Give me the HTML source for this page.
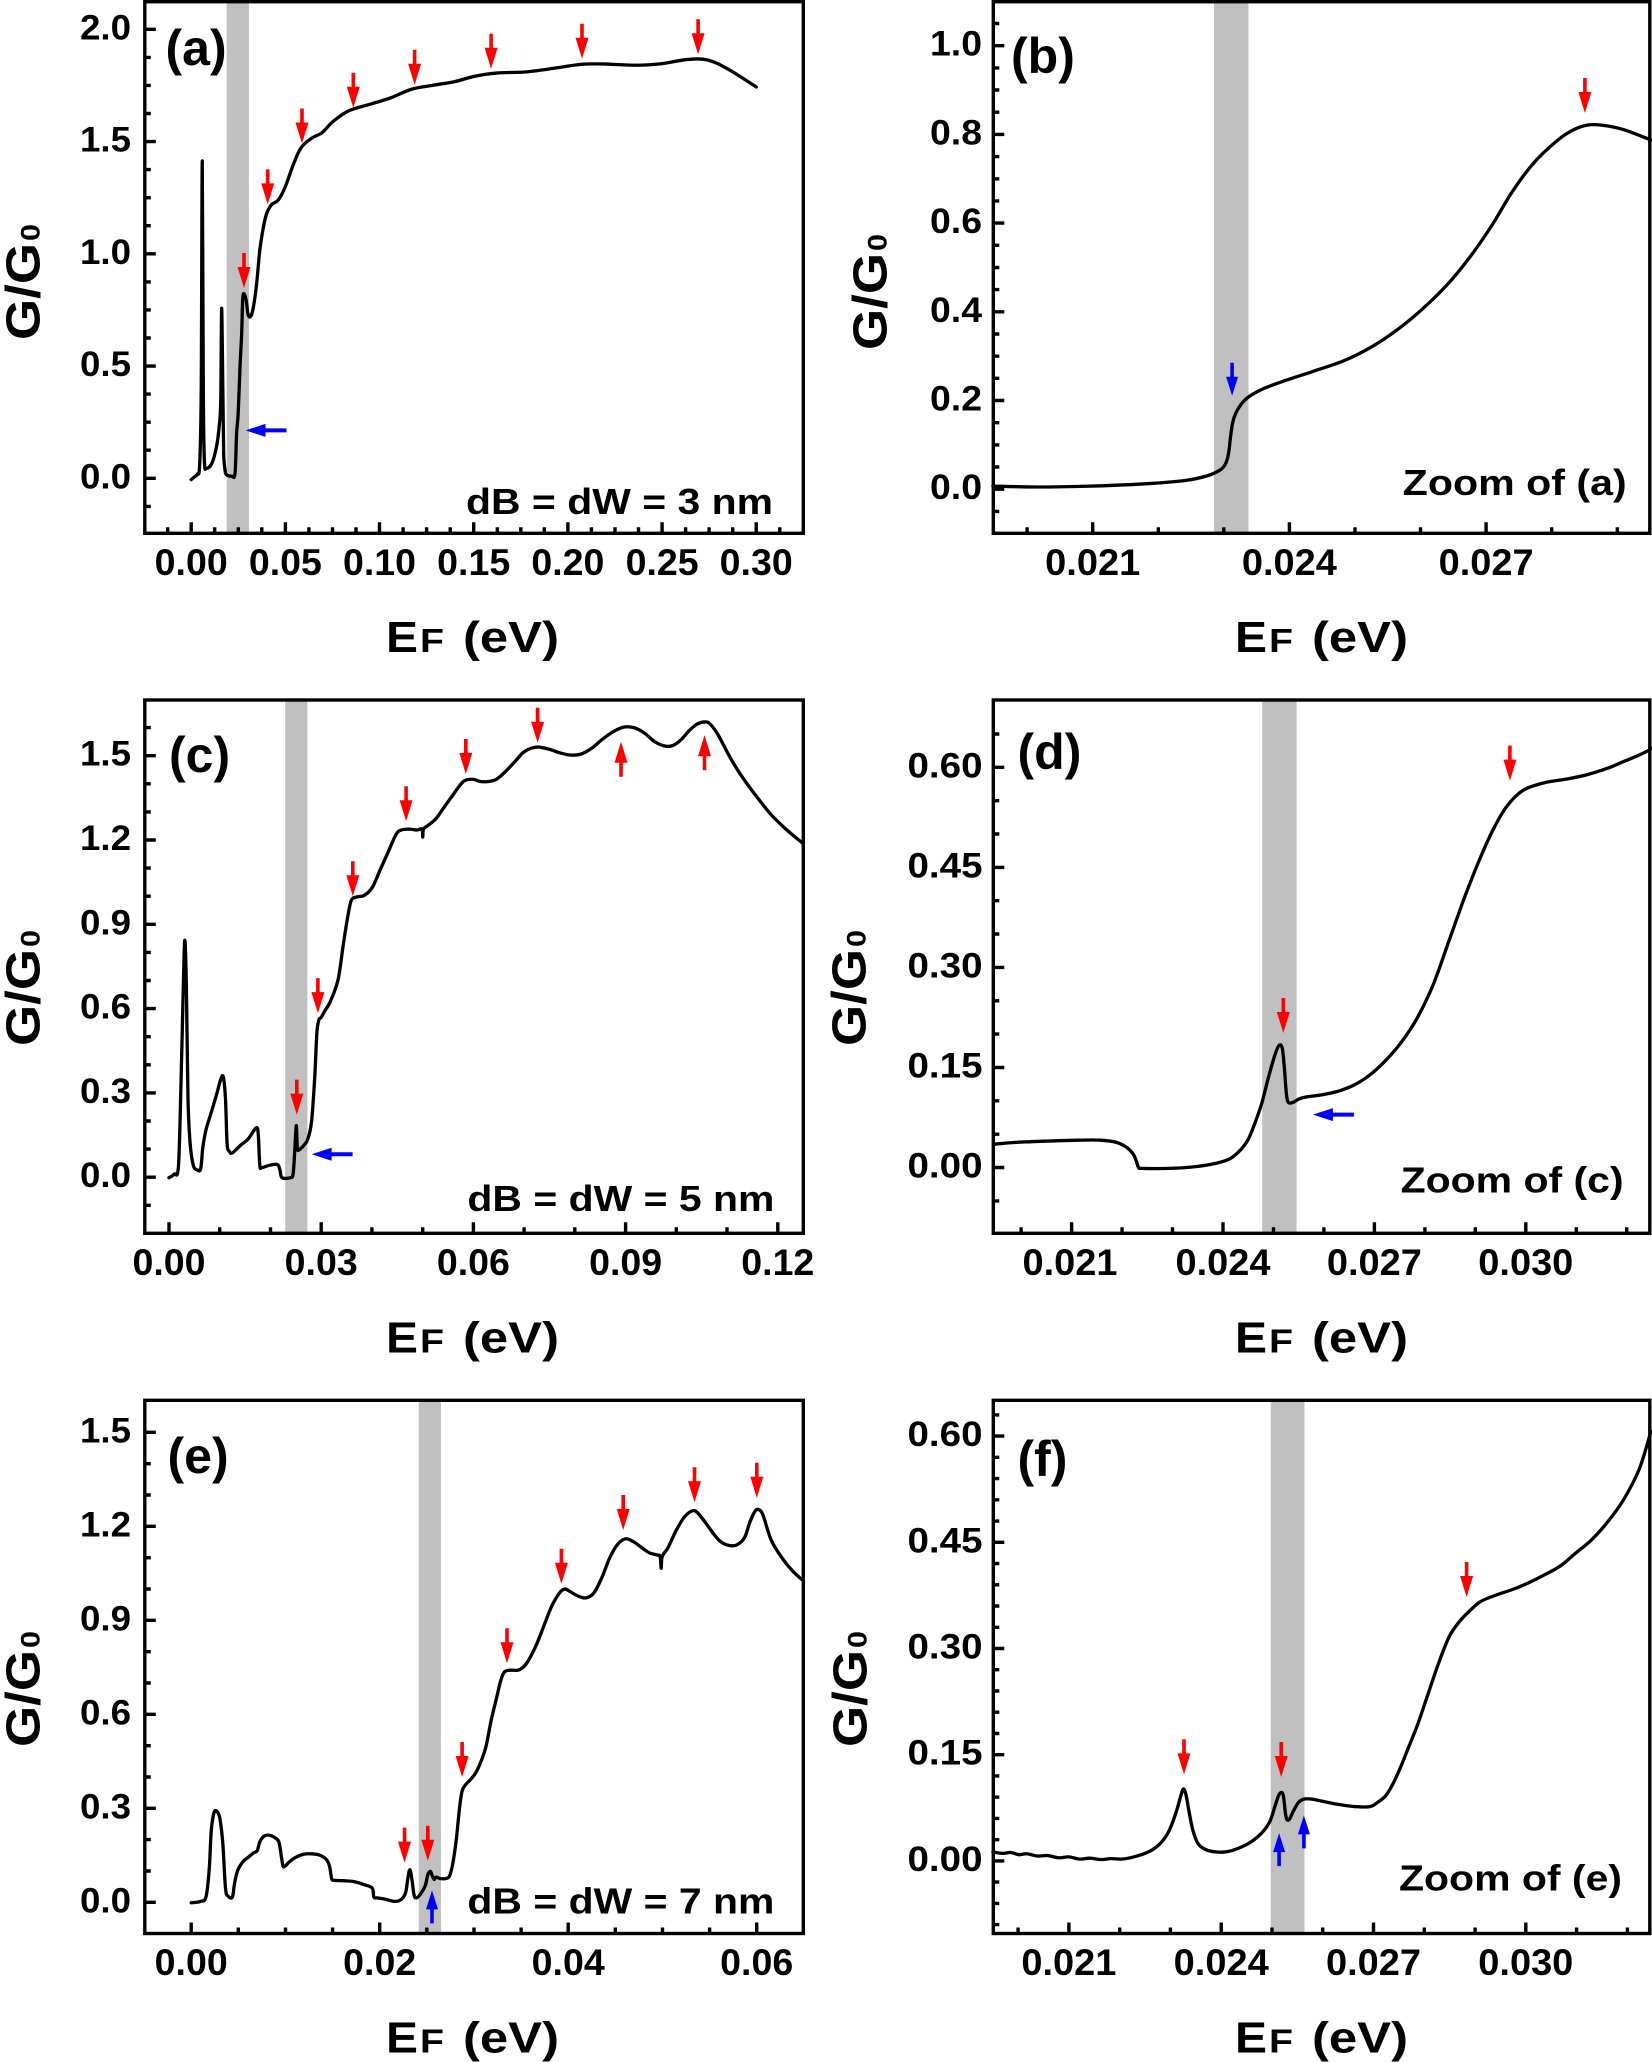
<!DOCTYPE html>
<html><head><meta charset="utf-8"><style>
html,body{margin:0;padding:0;background:#fff;overflow:hidden}
svg{display:block}
text{font-family:"Liberation Sans",Arial,sans-serif;font-weight:bold;fill:#000}
.yl{font-size:35px;text-anchor:end}
.xl{font-size:37px;text-anchor:middle}
.pl{font-size:50px}
.an{font-size:36px}
.ax{font-size:44px}
.cv{fill:none;stroke:#000;stroke-width:3.3;stroke-linejoin:round;stroke-linecap:round}
.tk{fill:none;stroke:#000;stroke-width:3.4}
.fr{fill:none;stroke:#000;stroke-width:3.4}
</style></head><body>
<svg width="1652" height="2062" viewBox="0 0 1652 2062" xmlns="http://www.w3.org/2000/svg">
<defs>
<polygon id="ra" points="-1.8,-35 1.8,-35 1.8,-21 6.5,-21 0,0 -6.5,-21 -1.8,-21" fill="#ff0000"/>
<polygon id="bl" points="-2,-41 2,-41 2,-20 6.5,-20 0,0 -6.5,-20 -2,-20" fill="#0000ff"/>
<polygon id="bs" points="-1.8,-33 1.8,-33 1.8,-19 6,-19 0,0 -6,-19 -1.8,-19" fill="#0000ff"/>
</defs>
<rect width="1652" height="2062" fill="#fff"/>

<!-- gray bands -->
<rect x="226.7" y="1.7" width="22.3" height="531.6" fill="#c0c0c0"/>
<rect x="1214" y="1.7" width="34.5" height="531.6" fill="#c0c0c0"/>
<rect x="285.2" y="700" width="22.2" height="533.3" fill="#c0c0c0"/>
<rect x="1262.2" y="700" width="34.4" height="533.3" fill="#c0c0c0"/>
<rect x="418.8" y="1400.3" width="22.2" height="533.2" fill="#c0c0c0"/>
<rect x="1270.7" y="1400.3" width="33.8" height="533.2" fill="#c0c0c0"/>

<!-- curves -->
<g transform="translate(0,0) scale(0.5281,0.4348)">
<polyline class="cv" vector-effect="non-scaling-stroke" points="362,1103 368,1097 374,1090 378,1070 381,900 383,370 385,900 387,1060 391,1077 401,1066 410,1027 415,981 418,920 419.7,709 422,900 423.5,1040 426,1080 429,1092 439,1095 445,1089 448,997 451,951 454.5,843 457.6,767 459.5,690 462,675 466,690 470,724 475,727 480,705 486,652 492,575 499,521 505,491 514,471 527,460 540,430 555,380 570,340 590,318 610,305 630,280 660,255 700,240 740,225 780,205 820,196 860,188 900,175 940,168 1000,165 1060,155 1100,148 1140,147 1200,150 1250,147 1300,137 1340,138 1380,160 1432,200"/>
</g>
<g transform="translate(826,0) scale(0.5281,0.4348)">
<polyline class="cv" vector-effect="non-scaling-stroke" points="316,1118 400,1120 500,1118 600,1113 680,1105 720,1095 745,1082 756,1068 762,1045 766,1005 770,972 776,950 786,930 800,913 830,893 870,875 920,855 980,830 1030,800 1080,760 1130,710 1180,650 1220,590 1260,520 1300,440 1340,375 1380,328 1410,302 1440,288 1470,288 1510,298 1562,322"/>
</g>
<g transform="translate(0,680) scale(0.5281,0.4412)">
<polyline class="cv" vector-effect="non-scaling-stroke" points="320,1128 330,1120 338,1100 343,900 347,700 350,590 353,700 356,950 360,1050 366,1100 373,1110 380,1108 384,1060 390,1020 400,980 410,940 418,905 423,900 427,950 430,1050 434,1068 440,1072 455,1055 470,1040 485,1015 489,1030 492,1100 496,1105 510,1100 525,1098 530,1110 534,1128 550,1128 555,1120 558,1070 561,1010 563,1060 566,1065 575,1055 583,1040 590,1000 596,900 600,800 604,770 608,765 615,750 625,730 640,680 650,600 658,540 665,500 675,492 690,488 705,470 720,430 735,390 750,350 760,340 775,338 790,340 799,338 800.5,356 802,338 810,330 825,315 840,290 855,265 870,240 880,228 895,225 910,230 925,230 940,225 955,210 975,185 990,165 1005,155 1020,152 1040,157 1060,165 1080,170 1100,168 1120,155 1140,135 1160,118 1180,107 1200,108 1220,120 1240,140 1260,150 1275,148 1290,135 1305,115 1320,100 1335,95 1345,100 1360,125 1380,170 1400,210 1430,260 1460,305 1490,340 1520,370"/>
</g>
<g transform="translate(826,680) scale(0.5281,0.4412)">
<polyline class="cv" vector-effect="non-scaling-stroke" points="318,1052 360,1048 420,1045 480,1043 520,1043 550,1048 570,1060 582,1075 588,1092 592,1105 600,1107 650,1107 700,1103 740,1095 765,1085 785,1065 800,1040 812,1005 825,960 838,900 850,850 858,828 864,835 868,880 872,940 876,958 885,957 895,950 910,945 940,940 970,932 1000,918 1030,895 1060,862 1090,820 1120,765 1150,690 1180,590 1210,490 1240,400 1265,335 1290,285 1320,250 1360,233 1400,225 1440,215 1480,200 1510,185 1540,170 1565,155"/>
</g>
<g transform="translate(0,1372) scale(0.5281,0.4412)">
<polyline class="cv" vector-effect="non-scaling-stroke" points="362,1203 380,1200 390,1190 396,1130 400,1040 405,1000 410,995 416,1010 422,1070 427,1170 432,1188 440,1190 444,1160 450,1130 460,1110 470,1100 480,1090 487,1085 492,1065 500,1052 510,1050 520,1055 528,1065 533,1100 536,1120 540,1120 548,1110 560,1100 575,1093 590,1092 605,1095 618,1105 624,1120 628,1148 632,1152 650,1153 670,1155 690,1162 705,1170 708,1190 715,1192 730,1195 748,1200 760,1195 768,1180 772,1150 776,1128 780,1150 784,1185 788,1192 795,1185 805,1165 810,1140 815,1132 818,1140 822,1150 826,1145 833,1148 845,1148 852,1140 858,1110 864,1060 870,990 875,950 882,935 890,925 900,910 910,885 920,850 930,790 940,740 948,700 955,680 965,676 980,676 990,670 1000,655 1015,620 1030,575 1045,530 1060,500 1070,492 1080,498 1095,508 1110,512 1125,500 1140,465 1155,420 1170,390 1185,378 1200,385 1215,398 1230,410 1245,415 1250,418 1252,445 1254,418 1265,398 1280,360 1295,330 1310,315 1320,318 1335,340 1350,365 1365,385 1380,393 1395,392 1410,375 1420,340 1430,315 1437,312 1445,325 1460,380 1480,420 1500,450 1520,472"/>
</g>
<g transform="translate(826,1372) scale(0.5281,0.4412)">
<polyline class="cv" vector-effect="non-scaling-stroke" points="316,1088 335,1091 350,1089 365,1094 380,1092 400,1097 420,1096 440,1101 460,1099 480,1104 500,1102 520,1105 540,1103 560,1104 580,1100 610,1088 630,1072 645,1050 655,1025 665,990 672,960 677,945 682,960 688,1000 695,1040 705,1070 720,1083 740,1088 760,1087 780,1080 805,1065 825,1045 840,1020 850,985 857,960 862,953 866,960 870,1000 873,1015 878,1013 885,995 895,975 905,968 920,968 940,973 970,980 1000,985 1030,985 1045,975 1060,960 1075,930 1090,890 1100,860 1120,800 1140,730 1160,660 1180,600 1200,565 1220,540 1240,520 1270,505 1300,493 1330,478 1360,460 1390,440 1420,410 1450,380 1480,340 1510,290 1540,220 1562,135"/>
</g>

<!-- frames -->
<rect class="fr" x="144.8" y="1.7" width="658.5" height="531.6"/>
<rect class="fr" x="993.3" y="1.7" width="656.5" height="531.6"/>
<rect class="fr" x="144.8" y="700" width="658.5" height="533.3"/>
<rect class="fr" x="993.3" y="700" width="656.5" height="533.3"/>
<rect class="fr" x="144.8" y="1400.3" width="658.5" height="533.2"/>
<rect class="fr" x="993.3" y="1400.3" width="656.5" height="533.2"/>

<!-- ticks (a) -->
<path class="tk" d="M144.8 29.3h11M144.8 141.6h11M144.8 253.8h11M144.8 366.1h11M144.8 478.3h11
M144.8 57.4h6M144.8 85.4h6M144.8 113.5h6M144.8 169.6h6M144.8 197.7h6M144.8 225.7h6M144.8 281.9h6M144.8 309.9h6M144.8 338h6M144.8 394.1h6M144.8 422.2h6M144.8 450.2h6M144.8 506.4h6
M191.2 533.3v-11M285.4 533.3v-11M379.5 533.3v-11M473.7 533.3v-11M567.9 533.3v-11M662.1 533.3v-11M756.2 533.3v-11
M167.7 533.3v-6M214.7 533.3v-6M238.3 533.3v-6M261.8 533.3v-6M308.9 533.3v-6M332.5 533.3v-6M356 533.3v-6M403.1 533.3v-6M426.6 533.3v-6M450.2 533.3v-6M497.3 533.3v-6M520.8 533.3v-6M544.3 533.3v-6M591.4 533.3v-6M615 533.3v-6M638.5 533.3v-6M685.6 533.3v-6M709.1 533.3v-6M732.7 533.3v-6M779.8 533.3v-6"/>
<!-- ticks (b) -->
<path class="tk" d="M993.3 489.2h11M993.3 400.5h11M993.3 311.8h11M993.3 223.1h11M993.3 134.4h11M993.3 45.7h11
M993.3 511.4h6M993.3 467h6M993.3 444.9h6M993.3 422.7h6M993.3 378.3h6M993.3 356.2h6M993.3 334h6M993.3 289.6h6M993.3 267.5h6M993.3 245.3h6M993.3 200.9h6M993.3 178.8h6M993.3 156.6h6M993.3 112.2h6M993.3 90h6M993.3 67.9h6M993.3 23.5h6
M1092.7 533.3v-11M1289.4 533.3v-11M1486.1 533.3v-11
M1027.1 533.3v-6M1158.3 533.3v-6M1223.8 533.3v-6M1355 533.3v-6M1420.5 533.3v-6M1551.7 533.3v-6M1617.3 533.3v-6"/>
<!-- ticks (c) -->
<path class="tk" d="M144.8 1177.2h11M144.8 1092.9h11M144.8 1008.6h11M144.8 924.3h11M144.8 840h11M144.8 755.7h11
M144.8 1205.3h6M144.8 1149.1h6M144.8 1121h6M144.8 1064.8h6M144.8 1036.7h6M144.8 980.5h6M144.8 952.4h6M144.8 896.2h6M144.8 868.1h6M144.8 811.9h6M144.8 783.8h6M144.8 727.6h6
M169 1233.3v-11M321.2 1233.3v-11M473.4 1233.3v-11M625.6 1233.3v-11M777.8 1233.3v-11
M219.7 1233.3v-6M270.5 1233.3v-6M371.9 1233.3v-6M422.7 1233.3v-6M524.1 1233.3v-6M574.8 1233.3v-6M676.3 1233.3v-6M727 1233.3v-6"/>
<!-- ticks (d) -->
<path class="tk" d="M993.3 1167.5h11M993.3 1067.5h11M993.3 967.4h11M993.3 867.4h11M993.3 767.3h11
M993.3 1200.9h6M993.3 1134.2h6M993.3 1100.8h6M993.3 1034.1h6M993.3 1000.8h6M993.3 934h6M993.3 900.7h6M993.3 834h6M993.3 800.7h6M993.3 734h6
M1071.6 1233.3v-11M1223 1233.3v-11M1374.4 1233.3v-11M1525.8 1233.3v-11
M1021.1 1233.3v-6M1122.1 1233.3v-6M1172.5 1233.3v-6M1273.5 1233.3v-6M1323.9 1233.3v-6M1424.9 1233.3v-6M1475.3 1233.3v-6M1576.3 1233.3v-6M1626.7 1233.3v-6"/>
<!-- ticks (e) -->
<path class="tk" d="M144.8 1902.3h11M144.8 1808.3h11M144.8 1714.3h11M144.8 1620.3h11M144.8 1526.3h11M144.8 1432.3h11
M144.8 1871h6M144.8 1839.6h6M144.8 1777h6M144.8 1745.7h6M144.8 1683h6M144.8 1651.7h6M144.8 1589h6M144.8 1557.7h6M144.8 1495h6M144.8 1463.7h6
M191.2 1933.5v-11M379.7 1933.5v-11M568.2 1933.5v-11M756.7 1933.5v-11
M238.3 1933.5v-6M285.5 1933.5v-6M332.6 1933.5v-6M426.8 1933.5v-6M474 1933.5v-6M521.1 1933.5v-6M615.3 1933.5v-6M662.5 1933.5v-6M709.6 1933.5v-6"/>
<!-- ticks (f) -->
<path class="tk" d="M993.3 1860.9h11M993.3 1754.7h11M993.3 1648.5h11M993.3 1542.3h11M993.3 1436.1h11
M993.3 1924.6h6M993.3 1903.4h6M993.3 1882.1h6M993.3 1839.7h6M993.3 1818.4h6M993.3 1797.2h6M993.3 1775.9h6M993.3 1733.5h6M993.3 1712.2h6M993.3 1691h6M993.3 1669.7h6M993.3 1627.3h6M993.3 1606h6M993.3 1584.8h6M993.3 1563.5h6M993.3 1521.1h6M993.3 1499.8h6M993.3 1478.6h6M993.3 1457.3h6M993.3 1414.9h6
M1068.9 1933.5v-11M1221.2 1933.5v-11M1373.5 1933.5v-11M1525.8 1933.5v-11
M1018.1 1933.5v-6M1119.7 1933.5v-6M1170.4 1933.5v-6M1272 1933.5v-6M1322.7 1933.5v-6M1424.3 1933.5v-6M1475.1 1933.5v-6M1576.6 1933.5v-6M1627.4 1933.5v-6"/>

<!-- arrows (a) -->
<use href="#ra" transform="translate(244,288)"/>
<use href="#ra" transform="translate(267.7,204.4)"/>
<use href="#ra" transform="translate(302,143.5)"/>
<use href="#ra" transform="translate(353.3,107.8)"/>
<use href="#ra" transform="translate(414.6,84.8)"/>
<use href="#ra" transform="translate(491.1,68.7)"/>
<use href="#ra" transform="translate(582,58.7)"/>
<use href="#ra" transform="translate(698.1,54.3)"/>
<use href="#bl" transform="translate(245.5,430.4) rotate(90)"/>
<!-- arrows (b) -->
<use href="#ra" transform="translate(1584.9,113)"/>
<use href="#bs" transform="translate(1232.1,395.7)"/>
<!-- arrows (c) -->
<use href="#ra" transform="translate(296.8,1114.6)"/>
<use href="#ra" transform="translate(317.9,1013.1)"/>
<use href="#ra" transform="translate(352.8,896.2)"/>
<use href="#ra" transform="translate(406.1,821.2)"/>
<use href="#ra" transform="translate(465.8,774)"/>
<use href="#ra" transform="translate(537.6,742.7)"/>
<use href="#ra" transform="translate(621,741.8) rotate(180)"/>
<use href="#ra" transform="translate(704.5,735.2) rotate(180)"/>
<use href="#bl" transform="translate(311.6,1154.3) rotate(90)"/>
<!-- arrows (d) -->
<use href="#ra" transform="translate(1283.3,1033)"/>
<use href="#ra" transform="translate(1509.9,780.6)"/>
<use href="#bl" transform="translate(1312.9,1114.6) rotate(90)"/>
<!-- arrows (e) -->
<use href="#ra" transform="translate(404.5,1862.6)"/>
<use href="#ra" transform="translate(427.8,1860.8)"/>
<use href="#ra" transform="translate(462.1,1777)"/>
<use href="#ra" transform="translate(507,1663.2)"/>
<use href="#ra" transform="translate(561.4,1583.8)"/>
<use href="#ra" transform="translate(623.2,1530)"/>
<use href="#ra" transform="translate(694.5,1502.2)"/>
<use href="#ra" transform="translate(756.8,1497.7)"/>
<use href="#bs" transform="translate(432,1890.4) rotate(180)"/>
<!-- arrows (f) -->
<use href="#ra" transform="translate(1184,1774.4)"/>
<use href="#ra" transform="translate(1281.2,1777)"/>
<use href="#ra" transform="translate(1466.6,1597)"/>
<use href="#bs" transform="translate(1279.1,1833.1) rotate(180)"/>
<use href="#bs" transform="translate(1303.9,1815.4) rotate(180)"/>

<!-- panel labels -->
<text class="pl" x="165.5" y="65">(a)</text>
<text class="pl" x="1011" y="73">(b)</text>
<text class="pl" x="169" y="772">(c)</text>
<text class="pl" x="1017.5" y="769">(d)</text>
<text class="pl" x="167.5" y="1473">(e)</text>
<text class="pl" x="1017.5" y="1476">(f)</text>

<!-- annotations -->
<text class="an" x="466" y="514" textLength="307" lengthAdjust="spacingAndGlyphs">dB = dW = 3 nm</text>
<text class="an" x="467.4" y="1211" textLength="307" lengthAdjust="spacingAndGlyphs">dB = dW = 5 nm</text>
<text class="an" x="467.4" y="1913.5" textLength="307" lengthAdjust="spacingAndGlyphs">dB = dW = 7 nm</text>
<text class="an" x="1402.7" y="495" textLength="224" lengthAdjust="spacingAndGlyphs">Zoom of (a)</text>
<text class="an" x="1400.6" y="1192.7" textLength="223" lengthAdjust="spacingAndGlyphs">Zoom of (c)</text>
<text class="an" x="1399" y="1890.4" textLength="223" lengthAdjust="spacingAndGlyphs">Zoom of (e)</text>

<!-- y tick labels left column -->
<text class="yl" x="131" y="39.3" textLength="51" lengthAdjust="spacingAndGlyphs">2.0</text>
<text class="yl" x="131" y="151.6" textLength="51" lengthAdjust="spacingAndGlyphs">1.5</text>
<text class="yl" x="131" y="263.8" textLength="51" lengthAdjust="spacingAndGlyphs">1.0</text>
<text class="yl" x="131" y="376.1" textLength="51" lengthAdjust="spacingAndGlyphs">0.5</text>
<text class="yl" x="131" y="488.3" textLength="51" lengthAdjust="spacingAndGlyphs">0.0</text>

<text class="yl" x="131" y="765.7" textLength="51" lengthAdjust="spacingAndGlyphs">1.5</text>
<text class="yl" x="131" y="850" textLength="51" lengthAdjust="spacingAndGlyphs">1.2</text>
<text class="yl" x="131" y="934.3" textLength="51" lengthAdjust="spacingAndGlyphs">0.9</text>
<text class="yl" x="131" y="1018.6" textLength="51" lengthAdjust="spacingAndGlyphs">0.6</text>
<text class="yl" x="131" y="1102.9" textLength="51" lengthAdjust="spacingAndGlyphs">0.3</text>
<text class="yl" x="131" y="1187.2" textLength="51" lengthAdjust="spacingAndGlyphs">0.0</text>

<text class="yl" x="131" y="1442.3" textLength="51" lengthAdjust="spacingAndGlyphs">1.5</text>
<text class="yl" x="131" y="1536.3" textLength="51" lengthAdjust="spacingAndGlyphs">1.2</text>
<text class="yl" x="131" y="1630.3" textLength="51" lengthAdjust="spacingAndGlyphs">0.9</text>
<text class="yl" x="131" y="1724.3" textLength="51" lengthAdjust="spacingAndGlyphs">0.6</text>
<text class="yl" x="131" y="1818.3" textLength="51" lengthAdjust="spacingAndGlyphs">0.3</text>
<text class="yl" x="131" y="1912.3" textLength="51" lengthAdjust="spacingAndGlyphs">0.0</text>

<!-- y tick labels right column -->
<text class="yl" x="982" y="55.7" textLength="52" lengthAdjust="spacingAndGlyphs">1.0</text>
<text class="yl" x="982" y="144.4" textLength="52" lengthAdjust="spacingAndGlyphs">0.8</text>
<text class="yl" x="982" y="233.1" textLength="52" lengthAdjust="spacingAndGlyphs">0.6</text>
<text class="yl" x="982" y="321.8" textLength="52" lengthAdjust="spacingAndGlyphs">0.4</text>
<text class="yl" x="982" y="410.5" textLength="52" lengthAdjust="spacingAndGlyphs">0.2</text>
<text class="yl" x="982" y="499.2" textLength="52" lengthAdjust="spacingAndGlyphs">0.0</text>

<text class="yl" x="982.5" y="777.3" textLength="75" lengthAdjust="spacingAndGlyphs">0.60</text>
<text class="yl" x="982.5" y="877.4" textLength="75" lengthAdjust="spacingAndGlyphs">0.45</text>
<text class="yl" x="982.5" y="977.4" textLength="75" lengthAdjust="spacingAndGlyphs">0.30</text>
<text class="yl" x="982.5" y="1077.5" textLength="75" lengthAdjust="spacingAndGlyphs">0.15</text>
<text class="yl" x="982.5" y="1177.5" textLength="75" lengthAdjust="spacingAndGlyphs">0.00</text>

<text class="yl" x="982.5" y="1446.1" textLength="75" lengthAdjust="spacingAndGlyphs">0.60</text>
<text class="yl" x="982.5" y="1552.3" textLength="75" lengthAdjust="spacingAndGlyphs">0.45</text>
<text class="yl" x="982.5" y="1658.5" textLength="75" lengthAdjust="spacingAndGlyphs">0.30</text>
<text class="yl" x="982.5" y="1764.7" textLength="75" lengthAdjust="spacingAndGlyphs">0.15</text>
<text class="yl" x="982.5" y="1870.9" textLength="75" lengthAdjust="spacingAndGlyphs">0.00</text>

<!-- x tick labels -->
<text class="xl" x="191.2" y="575" textLength="73" lengthAdjust="spacingAndGlyphs">0.00</text>
<text class="xl" x="285.4" y="575" textLength="73" lengthAdjust="spacingAndGlyphs">0.05</text>
<text class="xl" x="379.5" y="575" textLength="73" lengthAdjust="spacingAndGlyphs">0.10</text>
<text class="xl" x="473.7" y="575" textLength="73" lengthAdjust="spacingAndGlyphs">0.15</text>
<text class="xl" x="567.9" y="575" textLength="73" lengthAdjust="spacingAndGlyphs">0.20</text>
<text class="xl" x="662.1" y="575" textLength="73" lengthAdjust="spacingAndGlyphs">0.25</text>
<text class="xl" x="756.2" y="575" textLength="73" lengthAdjust="spacingAndGlyphs">0.30</text>

<text class="xl" x="1092.7" y="575" textLength="95" lengthAdjust="spacingAndGlyphs">0.021</text>
<text class="xl" x="1289.4" y="575" textLength="95" lengthAdjust="spacingAndGlyphs">0.024</text>
<text class="xl" x="1486.1" y="575" textLength="95" lengthAdjust="spacingAndGlyphs">0.027</text>

<text class="xl" x="169" y="1275" textLength="73" lengthAdjust="spacingAndGlyphs">0.00</text>
<text class="xl" x="321.2" y="1275" textLength="73" lengthAdjust="spacingAndGlyphs">0.03</text>
<text class="xl" x="473.4" y="1275" textLength="73" lengthAdjust="spacingAndGlyphs">0.06</text>
<text class="xl" x="625.6" y="1275" textLength="73" lengthAdjust="spacingAndGlyphs">0.09</text>
<text class="xl" x="777.8" y="1275" textLength="73" lengthAdjust="spacingAndGlyphs">0.12</text>

<text class="xl" x="1070" y="1275" textLength="95" lengthAdjust="spacingAndGlyphs">0.021</text>
<text class="xl" x="1223" y="1275" textLength="95" lengthAdjust="spacingAndGlyphs">0.024</text>
<text class="xl" x="1374.4" y="1275" textLength="95" lengthAdjust="spacingAndGlyphs">0.027</text>
<text class="xl" x="1525.8" y="1275" textLength="95" lengthAdjust="spacingAndGlyphs">0.030</text>

<text class="xl" x="191.2" y="1975" textLength="73" lengthAdjust="spacingAndGlyphs">0.00</text>
<text class="xl" x="379.7" y="1975" textLength="73" lengthAdjust="spacingAndGlyphs">0.02</text>
<text class="xl" x="568.2" y="1975" textLength="73" lengthAdjust="spacingAndGlyphs">0.04</text>
<text class="xl" x="756.7" y="1975" textLength="73" lengthAdjust="spacingAndGlyphs">0.06</text>

<text class="xl" x="1068.9" y="1975" textLength="95" lengthAdjust="spacingAndGlyphs">0.021</text>
<text class="xl" x="1221.2" y="1975" textLength="95" lengthAdjust="spacingAndGlyphs">0.024</text>
<text class="xl" x="1373.5" y="1975" textLength="95" lengthAdjust="spacingAndGlyphs">0.027</text>
<text class="xl" x="1525.8" y="1975" textLength="95" lengthAdjust="spacingAndGlyphs">0.030</text>

<!-- x axis titles -->
<text class="ax" x="386" y="652" textLength="32" lengthAdjust="spacingAndGlyphs">E</text>
<text x="420" y="652" font-size="33" textLength="24" lengthAdjust="spacingAndGlyphs">F</text>
<text class="ax" x="463" y="652" textLength="96" lengthAdjust="spacingAndGlyphs">(eV)</text>

<text class="ax" x="1235" y="652" textLength="32" lengthAdjust="spacingAndGlyphs">E</text>
<text x="1269" y="652" font-size="33" textLength="24" lengthAdjust="spacingAndGlyphs">F</text>
<text class="ax" x="1312" y="652" textLength="96" lengthAdjust="spacingAndGlyphs">(eV)</text>

<text class="ax" x="386" y="1352.5" textLength="32" lengthAdjust="spacingAndGlyphs">E</text>
<text x="420" y="1352.5" font-size="33" textLength="24" lengthAdjust="spacingAndGlyphs">F</text>
<text class="ax" x="463" y="1352.5" textLength="96" lengthAdjust="spacingAndGlyphs">(eV)</text>

<text class="ax" x="1235" y="1352.5" textLength="32" lengthAdjust="spacingAndGlyphs">E</text>
<text x="1269" y="1352.5" font-size="33" textLength="24" lengthAdjust="spacingAndGlyphs">F</text>
<text class="ax" x="1312" y="1352.5" textLength="96" lengthAdjust="spacingAndGlyphs">(eV)</text>

<text class="ax" x="386" y="2052.5" textLength="32" lengthAdjust="spacingAndGlyphs">E</text>
<text x="420" y="2052.5" font-size="33" textLength="24" lengthAdjust="spacingAndGlyphs">F</text>
<text class="ax" x="463" y="2052.5" textLength="96" lengthAdjust="spacingAndGlyphs">(eV)</text>

<text class="ax" x="1235" y="2052.5" textLength="32" lengthAdjust="spacingAndGlyphs">E</text>
<text x="1269" y="2052.5" font-size="33" textLength="24" lengthAdjust="spacingAndGlyphs">F</text>
<text class="ax" x="1312" y="2052.5" textLength="96" lengthAdjust="spacingAndGlyphs">(eV)</text>

<!-- y axis titles -->
<g transform="translate(39.5,340) rotate(-90)">
<text x="0" y="0" font-size="48" textLength="97" lengthAdjust="spacingAndGlyphs">G/G</text>
<text x="99" y="0" font-size="27" textLength="17" lengthAdjust="spacingAndGlyphs">0</text>
</g>
<g transform="translate(886.5,350) rotate(-90)">
<text x="0" y="0" font-size="48" textLength="97" lengthAdjust="spacingAndGlyphs">G/G</text>
<text x="99" y="0" font-size="27" textLength="17" lengthAdjust="spacingAndGlyphs">0</text>
</g>
<g transform="translate(39.5,1046) rotate(-90)">
<text x="0" y="0" font-size="48" textLength="97" lengthAdjust="spacingAndGlyphs">G/G</text>
<text x="99" y="0" font-size="27" textLength="17" lengthAdjust="spacingAndGlyphs">0</text>
</g>
<g transform="translate(865.5,1046) rotate(-90)">
<text x="0" y="0" font-size="48" textLength="97" lengthAdjust="spacingAndGlyphs">G/G</text>
<text x="99" y="0" font-size="27" textLength="17" lengthAdjust="spacingAndGlyphs">0</text>
</g>
<g transform="translate(39.5,1747) rotate(-90)">
<text x="0" y="0" font-size="48" textLength="97" lengthAdjust="spacingAndGlyphs">G/G</text>
<text x="99" y="0" font-size="27" textLength="17" lengthAdjust="spacingAndGlyphs">0</text>
</g>
<g transform="translate(866.5,1747) rotate(-90)">
<text x="0" y="0" font-size="48" textLength="97" lengthAdjust="spacingAndGlyphs">G/G</text>
<text x="99" y="0" font-size="27" textLength="17" lengthAdjust="spacingAndGlyphs">0</text>
</g>
</svg>
<script>
(function(){
  try{
    var ns="http://www.w3.org/2000/svg";
    var pls=document.querySelectorAll("polyline.cv");
    for(var i=0;i<pls.length;i++){
      var pl=pls[i];
      var raw=pl.getAttribute("points").trim().split(/\s+/);
      var p=[];
      for(var j=0;j<raw.length;j++){var c=raw[j].split(",");p.push([+c[0],+c[1]]);}
      if(p.length<3)continue;
      var d="M"+p[0][0]+" "+p[0][1];
      for(var k=0;k<p.length-1;k++){
        var p0=p[k>0?k-1:0],p1=p[k],p2=p[k+1],p3=p[k+2<p.length?k+2:p.length-1];
        var c1x=p1[0]+(p2[0]-p0[0])/6,c1y=p1[1]+(p2[1]-p0[1])/6;
        var c2x=p2[0]-(p3[0]-p1[0])/6,c2y=p2[1]-(p3[1]-p1[1])/6;
        d+="C"+c1x.toFixed(2)+" "+c1y.toFixed(2)+" "+c2x.toFixed(2)+" "+c2y.toFixed(2)+" "+p2[0]+" "+p2[1];
      }
      var path=document.createElementNS(ns,"path");
      path.setAttribute("d",d);
      path.setAttribute("class","cv");
      path.setAttribute("vector-effect","non-scaling-stroke");
      pl.parentNode.replaceChild(path,pl);
    }
  }catch(e){}
})();
</script>
</body></html>
